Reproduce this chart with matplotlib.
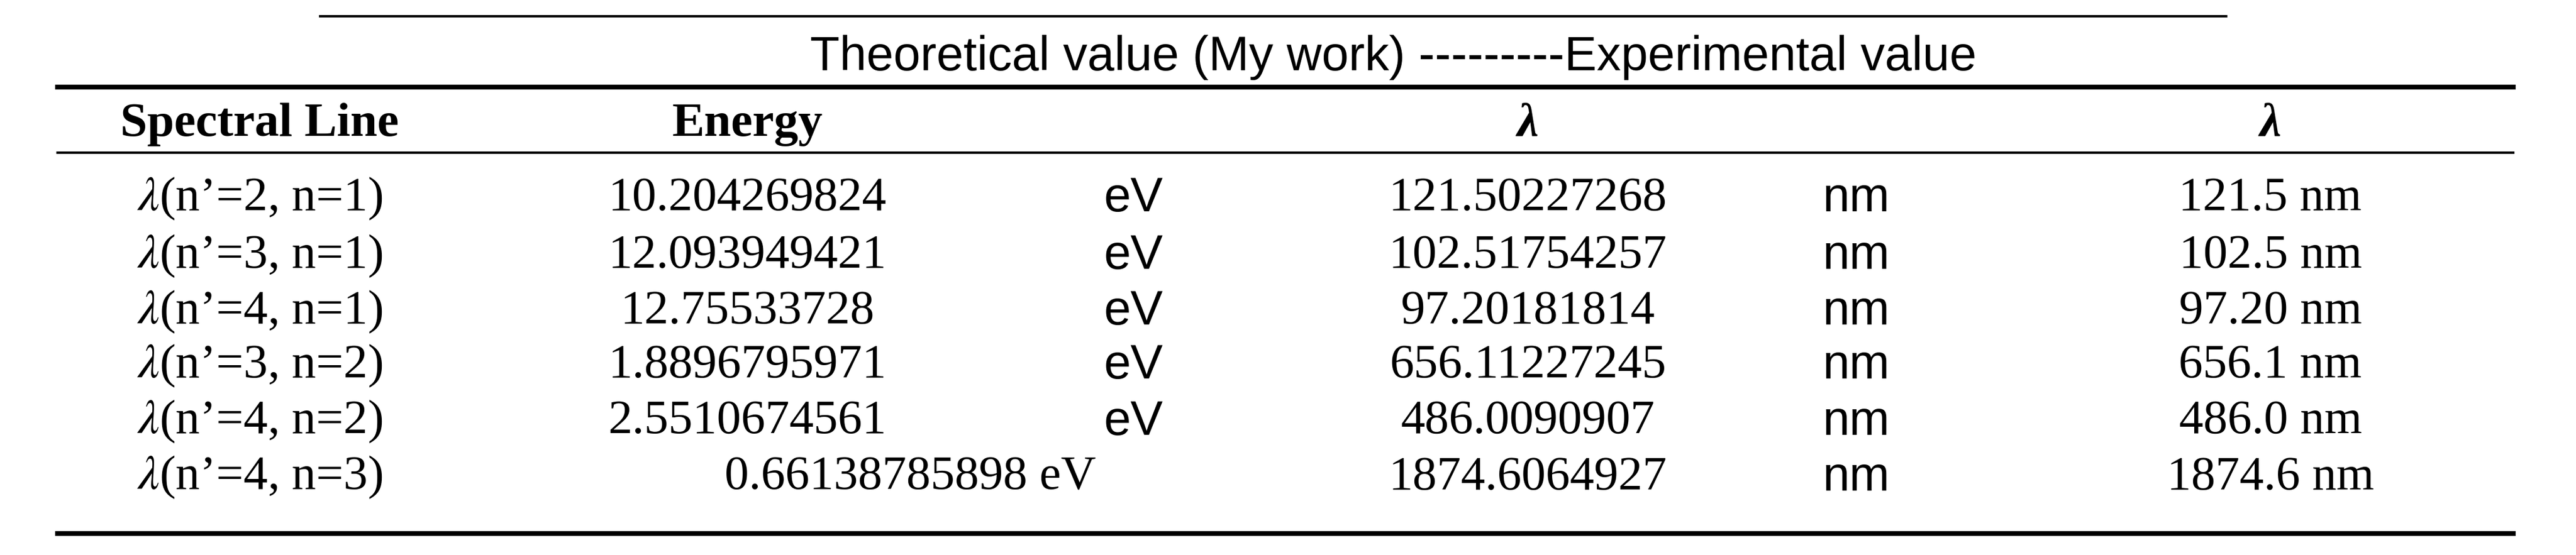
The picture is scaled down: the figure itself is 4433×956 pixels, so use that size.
import matplotlib
matplotlib.use("Agg")
import matplotlib.pyplot as plt
from matplotlib.lines import Line2D

title = "Theoretical value (My work) ---------Experimental value"
headers = ["Spectral Line", "Energy", "λ", "λ"]
lines = ["(n’=2, n=1)", "(n’=3, n=1)", "(n’=4, n=1)", "(n’=3, n=2)", "(n’=4, n=2)", "(n’=4, n=3)"]
energy = ["10.204269824", "12.093949421", "12.75533728", "1.8896795971", "2.5510674561", "0.66138785898"]
lam_theory = ["121.50227268", "102.51754257", "97.20181814", "656.11227245", "486.0090907", "1874.6064927"]
lam_exp = ["121.5 nm", "102.5 nm", "97.20 nm", "656.1 nm", "486.0 nm", "1874.6 nm"]

W, H = 4433, 956
fig = plt.figure(figsize=(W/100, H/100), dpi=100)
fig.patch.set_facecolor("white")
S = 2.827
def X(x): return x*S/W
def Y(y): return 1 - y*S/H
serif = ["Liberation Serif", "DejaVu Serif"]
sans = ["Liberation Sans", "DejaVu Sans"]
fs = 60

def hline(y, x0, x1, lw):
    fig.add_artist(Line2D([X(x0), X(x1)], [Y(y), Y(y)], color="black", lw=lw))

hline(10, 195, 1355, 3)
hline(53, 35, 1530, 6)
hline(93, 35, 1530, 3)
hline(325, 35, 1530, 6)

fig.text(X(848), Y(35), title, ha="center", va="center", fontsize=fs, family=sans)
fig.text(X(158), Y(76), headers[0], ha="center", va="center", fontsize=fs, family=serif, weight="bold")
fig.text(X(455), Y(76), headers[1], ha="center", va="center", fontsize=fs, family=serif, weight="bold")
fig.text(X(930), Y(76), headers[2], ha="center", va="center", fontsize=fs, family=serif, weight="bold", style="italic")
fig.text(X(1382), Y(76), headers[3], ha="center", va="center", fontsize=fs, family=serif, weight="bold", style="italic")

ys = [121, 156, 190, 223, 257, 291]
for i, y in enumerate(ys):
    fig.text(X(158), Y(y), r"$\lambda$" + lines[i], ha="center", va="center", fontsize=fs, family=serif,
             math_fontfamily="stix")
    if i < 5:
        fig.text(X(455), Y(y), energy[i], ha="center", va="center", fontsize=fs, family=serif)
        fig.text(X(690), Y(y), "eV", ha="center", va="center", fontsize=fs, family=sans)
    else:
        fig.text(X(554), Y(y), energy[i] + " eV", ha="center", va="center", fontsize=fs, family=serif)
    fig.text(X(930), Y(y), lam_theory[i], ha="center", va="center", fontsize=fs, family=serif)
    fig.text(X(1130), Y(y), "nm", ha="center", va="center", fontsize=fs, family=sans)
    fig.text(X(1382), Y(y), lam_exp[i], ha="center", va="center", fontsize=fs, family=serif)

fig.savefig("out.png", dpi=100)
